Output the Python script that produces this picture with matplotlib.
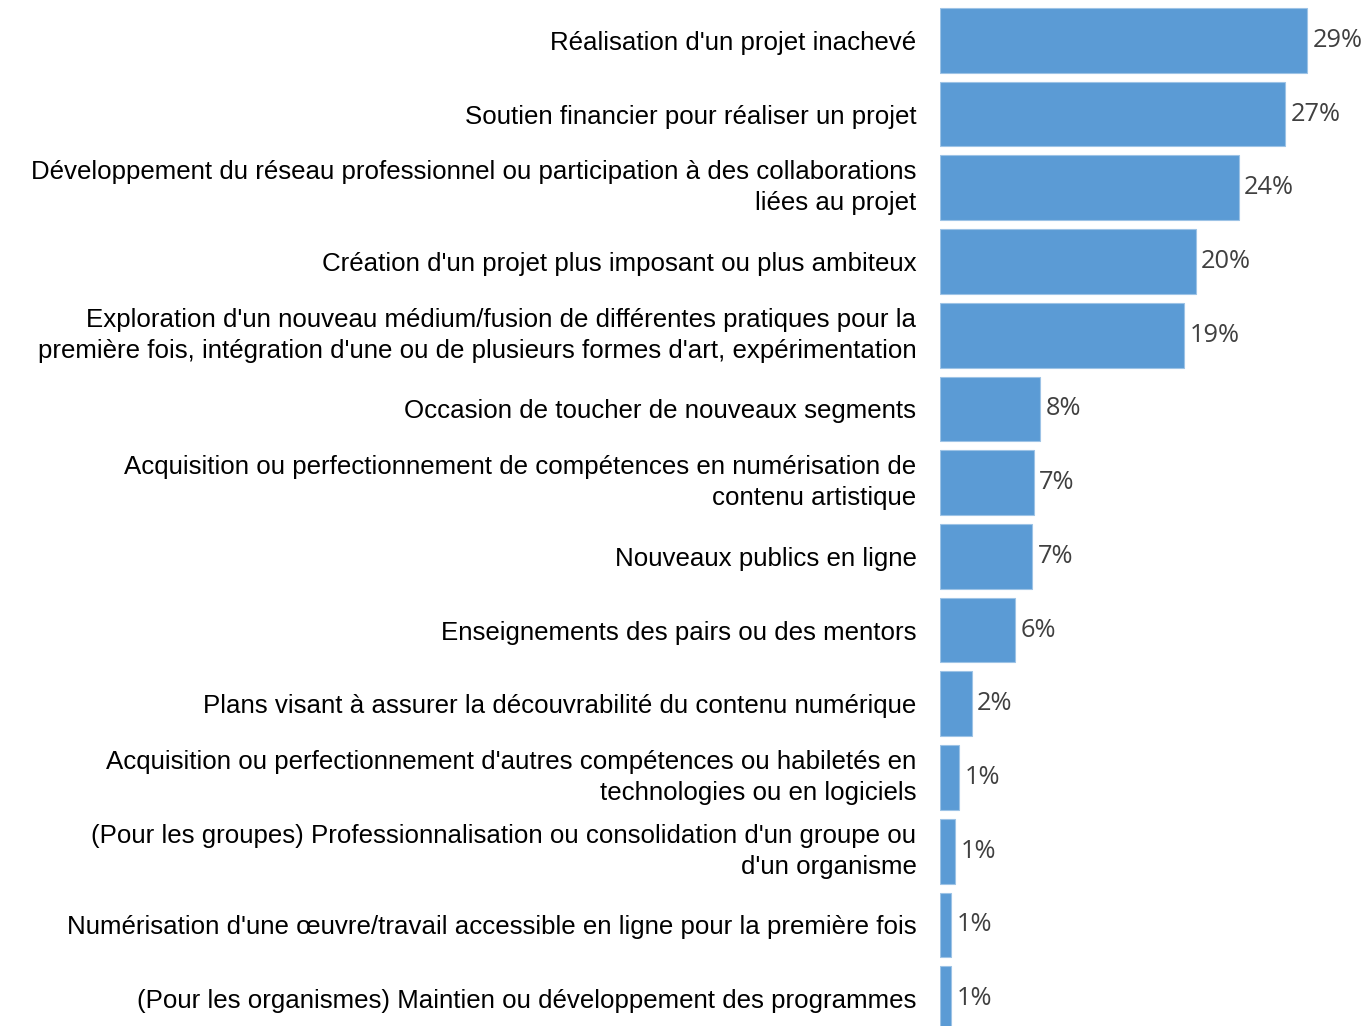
import matplotlib
matplotlib.use("Agg")
import matplotlib.pyplot as plt

# ---- données ----
categories = [
    "Réalisation d'un projet inachevé",
    "Soutien financier pour réaliser un projet",
    "Développement du réseau professionnel ou participation à des collaborations\nliées au projet",
    "Création d'un projet plus imposant ou plus ambiteux",
    "Exploration d'un nouveau médium/fusion de différentes pratiques pour la\npremière fois, intégration d'une ou de plusieurs formes d'art, expérimentation",
    "Occasion de toucher de nouveaux segments",
    "Acquisition ou perfectionnement de compétences en numérisation de\ncontenu artistique",
    "Nouveaux publics en ligne",
    "Enseignements des pairs ou des mentors",
    "Plans visant à assurer la découvrabilité du contenu numérique",
    "Acquisition ou perfectionnement d'autres compétences ou habiletés en\ntechnologies ou en logiciels",
    "(Pour les groupes) Professionnalisation ou consolidation d'un groupe ou\nd'un organisme",
    "Numérisation d'une œuvre/travail accessible en ligne pour la première fois",
    "(Pour les organismes) Maintien ou développement des programmes",
]
values = [29.0, 27.3, 23.6, 20.2, 19.3, 7.9, 7.4, 7.3, 5.9, 2.5, 1.5, 1.2, 0.9, 0.9]
value_labels = ["29%", "27%", "24%", "20%", "19%", "8%", "7%", "7%", "6%",
                "2%", "1%", "1%", "1%", "1%"]

bar_color = "#5B9BD5"

fig = plt.figure(figsize=(13.65, 10.26), dpi=100)
ax = fig.add_axes([940 / 1365, 0, 425 / 1365, 1])

pos = list(range(len(values)))
ax.barh(pos, values, height=0.878, color=bar_color, edgecolor="#9DC3E6", linewidth=0.8)

for i, (v, lab) in enumerate(zip(values, value_labels)):
    ax.annotate(lab, xy=(v, i), xytext=(4, 0), textcoords="offset points",
                ha="left", va="center", fontsize=18.3, color="#404040",
                family="Open Sans")

ax.set_xlim(0, 33.6)
ax.set_ylim(13.37, -0.547)

ax.set_yticks(pos)
ax.set_yticklabels(categories, fontsize=18.6, family="Liberation Sans",
                   color="black", linespacing=1.38)
# les étiquettes sur deux lignes sont centrées sur la barre
for t in ax.get_yticklabels():
    if "\n" in t.get_text():
        t.set_va("center")
ax.tick_params(axis="y", length=0, pad=17)
ax.set_xticks([])
for s in ax.spines.values():
    s.set_visible(False)

fig.savefig("out.png", dpi=100)
